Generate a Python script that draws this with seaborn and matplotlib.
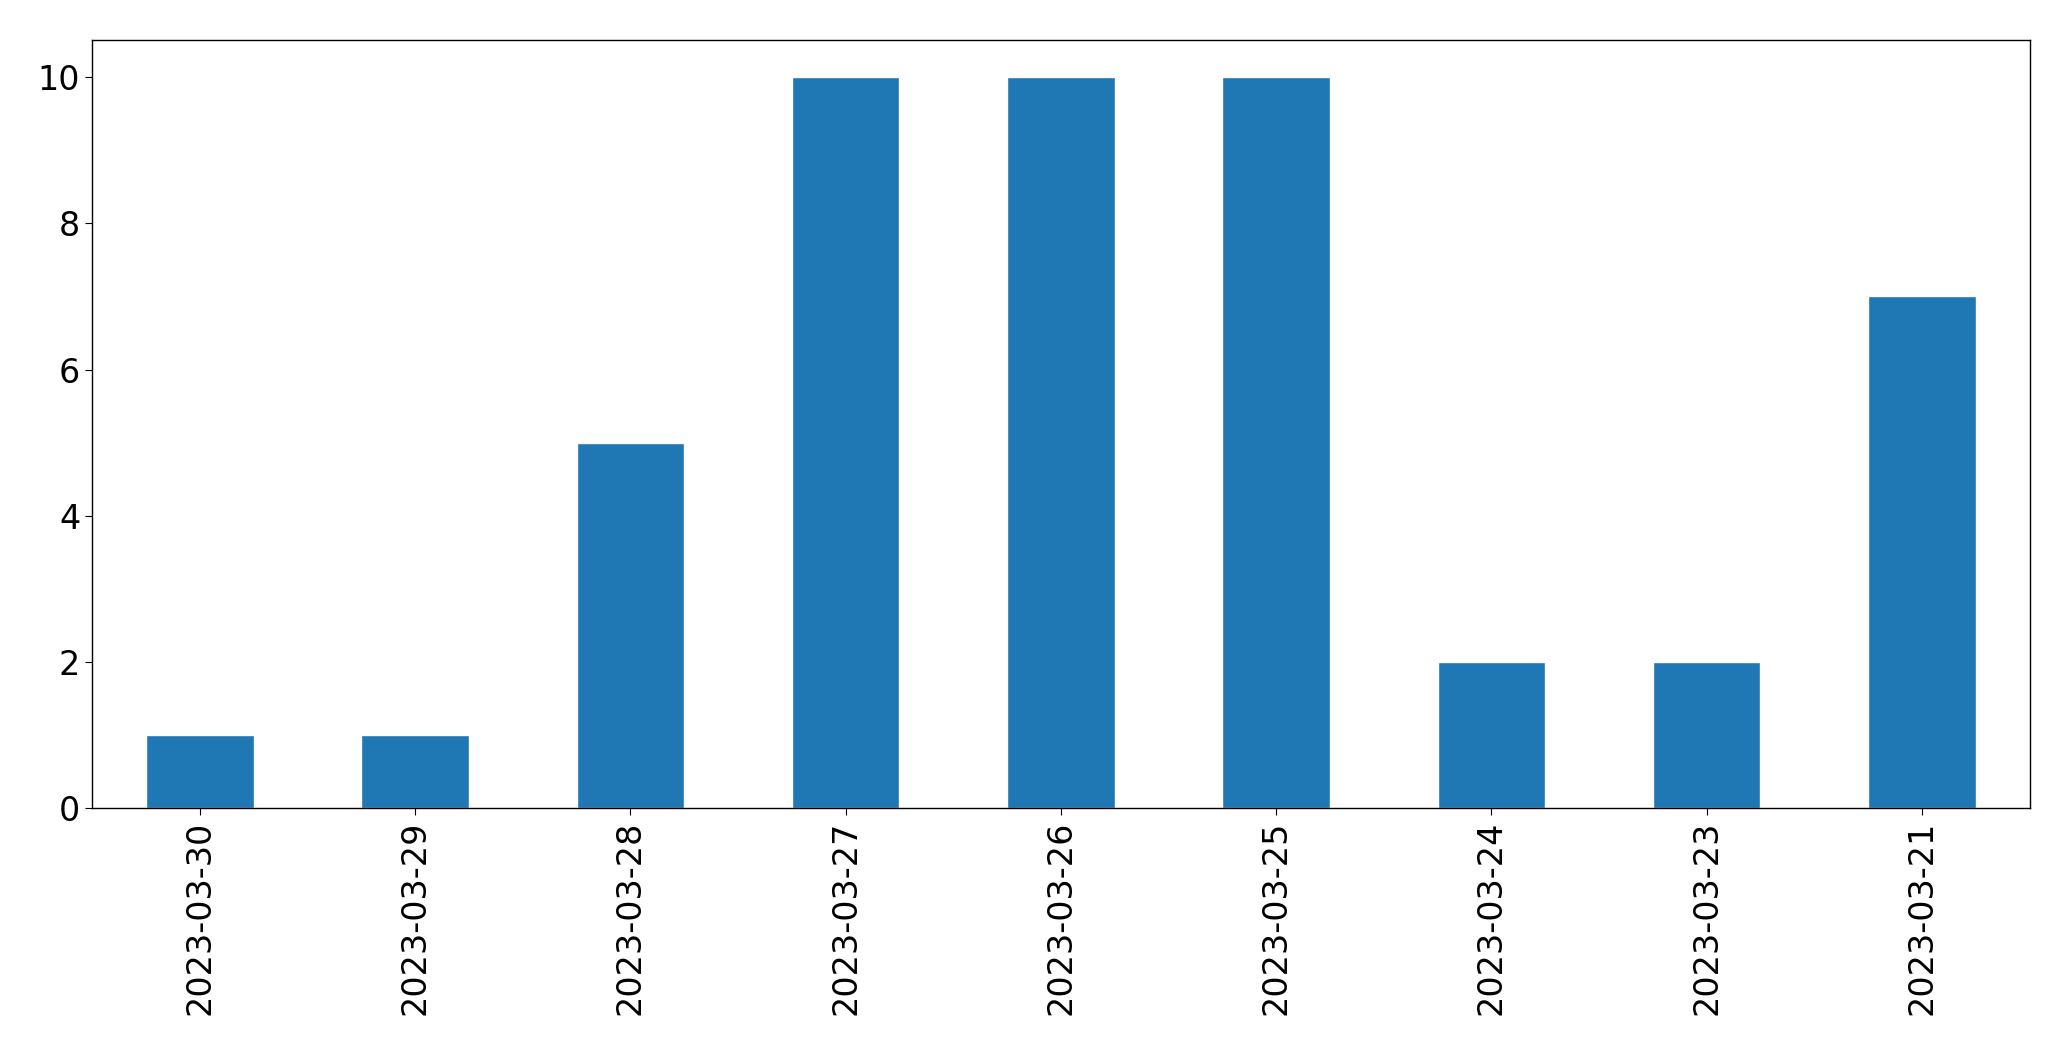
import matplotlib
matplotlib.use("Agg")
import matplotlib.pyplot as plt
import pandas as pd
import seaborn as sns

dates = ["2023-03-30", "2023-03-29", "2023-03-28", "2023-03-27", "2023-03-26",
         "2023-03-25", "2023-03-24", "2023-03-23", "2023-03-21"]
counts = [1, 1, 5, 10, 10, 10, 2, 2, 7]

df = pd.DataFrame({"date": dates, "count": counts})

sns.set_style("white")
plt.rcParams["font.family"] = ["DejaVu Sans"]

fig, ax = plt.subplots(figsize=(20.71, 10.61), dpi=100)
sns.barplot(data=df, x="date", y="count", color="#1f77b4", saturation=1,
            width=0.5, ax=ax)
ax.set_xlabel("")
ax.set_ylabel("")
ax.set_xlim(-0.5, len(dates) - 0.5)
ax.tick_params(axis="both", labelsize=24, length=5, bottom=True, left=True,
               colors="black", labelcolor="black")
plt.setp(ax.get_xticklabels(), rotation=90)
for s in ax.spines.values():
    s.set_visible(True)
    s.set_color("black")
    s.set_linewidth(1.0)
fig.subplots_adjust(left=0.0445, right=0.980, top=0.962, bottom=0.238)
fig.savefig("out.png", dpi=100)
